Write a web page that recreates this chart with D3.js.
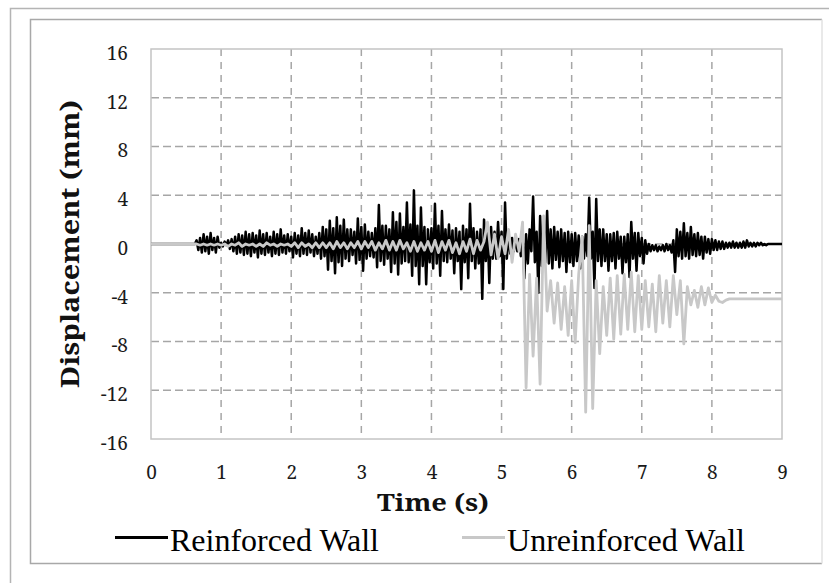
<!DOCTYPE html>
<html>
<head>
<meta charset="utf-8">
<script src="https://cdn.jsdelivr.net/npm/d3@7"></script>
<style>
  html, body { margin: 0; padding: 0; background: #fff; overflow: hidden; }
</style>
</head>
<body>
<div id="chart"></div>
<script>
"use strict";

/* ── Data ── */
const xTicks       = [0, 1, 2, 3, 4, 5, 6, 7, 8, 9];
const xTickLabels  = ["0", "1", "2", "3", "4", "5", "6", "7", "8", "9"];
const yTicks       = [-16, -12, -8, -4, 0, 4, 8, 12, 16];
const yTickLabels  = ["-16", "-12", "-8", "-4", "0", "4", "8", "12", "16"];
const seriesNames  = ["Reinforced Wall", "Unreinforced Wall"];

// reinforced wall: one sample every 0.025 s, one row per second (40 samples)
const reinforcedStep = 0.025;
const reinforced = [
  0, 0, 0, 0, 0, 0, 0, 0, 0, 0, 0, 0, 0, 0, 0, 0, 0, 0, 0, 0, 0, 0, 0, 0, 0, 0,
  0.3, -0.5, 0.5, -0.7, 0.8, -0.6, 0.6, -0.8, 0.9, -0.5, 0.5, -0.7, 0.6, -0.3,
  0.1, -0.2, 0.2, -0.1, 0.3, -0.4, 0.4, -0.6, 0.6, -0.8, 0.8, -0.7, 0.7, -0.9, 1.0, -0.8, 0.8, -1.0, 0.9, -0.7,
  0.7, -1.1, 1.1, -0.8, 0.8, -0.9, 0.9, -0.7, 0.6, -1.0, 1.0, -0.8, 0.8, -0.9, 1.2, -0.7, 0.7, -0.8, 0.8, -0.6,
  0.6, -1.1, 0.9, -0.8, 0.7, -1.0, 1.3, -0.8, 0.9, -0.9, 1.1, -0.7, 0.8, -1.0, 0.6, -0.8, 0.9, -1.2, 1.4, -1.0,
  1.2, -2.1, 1.9, -1.4, 1.3, -2.4, 2.2, -1.5, 1.5, -1.8, 2.0, -1.2, 1.2, -1.4, 1.2, -0.9, 1.0, -1.6, 2.1, -1.3,
  1.4, -2.2, 1.6, -1.2, 1.0, -1.0, 0.9, -1.1, 1.3, -1.9, 3.2, -1.4, 1.5, -1.7, 1.5, -1.2, 1.2, -2.3, 2.6, -1.6,
  1.8, -2.5, 2.5, -1.6, 1.4, -1.4, 3.4, -1.5, 1.6, -2.6, 4.4, -1.8, 1.5, -3.3, 3.0, -1.8, 1.4, -3.3, 1.2, -1.5,
  1.3, -2.0, 3.3, -1.6, 1.5, -2.6, 2.7, -1.4, 1.2, -1.5, 1.6, -1.2, 1.1, -2.4, 1.3, -1.4, 1.0, -3.7, 1.5, -1.5,
  1.2, -2.8, 3.3, -1.4, 1.3, -2.0, 1.0, -1.6, 1.2, -4.5, 2.0, -1.4, 1.3, -3.2, 1.4, -1.2, 1.0, -1.2, 1.8, -1.0,
  1.0, -3.7, 3.4, -1.2, 0.8, -0.8, 0.5, -0.6, 0.6, -0.6, 0.4, -1.0, 0.6, -2.8, 0.8, -1.6, 1.2, -0.6, 3.9, -1.5,
  1.0, -4.0, 2.3, -1.8, 1.4, -1.5, 2.7, -1.6, 1.2, -2.0, 1.4, -1.3, 1.0, -1.9, 1.2, -1.4, 0.9, -2.3, 1.0, -1.5,
  0.8, -1.8, 0.9, -1.4, 0.7, -2.0, 0.6, -1.2, 0.8, -1.0, 3.8, -1.2, 1.0, -3.6, 3.7, -1.4, 1.2, -1.8, 1.2, -1.4,
  0.8, -2.2, 0.8, -1.4, 0.9, -2.0, 1.0, -1.2, 0.6, -2.4, 0.6, -1.5, 0.8, -2.7, 1.8, -1.2, 0.9, -2.2, 0.9, -1.0,
  0.5, -1.6, 0.3, -0.8, 0.0, -0.6, -0.1, -0.5, -0.1, -0.6, -0.2, -0.5, -0.1, -0.6, 0.0, -0.5, -0.1, -0.7, 0.3, -2.3,
  1.2, -1.0, 1.0, -1.2, 1.7, -1.0, 0.9, -1.2, 1.4, -0.9, 0.8, -1.0, 0.9, -0.9, 0.6, -1.2, 0.6, -0.7, 0.4, -0.8,
  0.4, -0.5, 0.3, -0.5, 0.2, -0.4, 0.2, -0.4, 0.1, -0.3, 0.1, -0.3, 0.2, -0.3, 0.1, -0.3, 0.1, -0.3, 0.2, -0.3,
  0.3, -0.2, 0.1, -0.2, 0.1, -0.2, 0.1, -0.1, 0.1, -0.1, 0.0, -0.1, 0, 0, 0, 0, 0, 0, 0, 0,
  0
];

// unreinforced wall: one sample every 0.05 s, one row per second (20 samples)
const unreinforcedStep = 0.05;
const unreinforced = [
  0, 0, 0, 0, 0, 0, 0, 0, 0, 0, 0, 0, 0, 0.0, -0.1, 0.0, -0.1, 0.0, -0.1, 0.0,
  -0.1, 0.0, -0.2, 0.0, -0.1, 0.1, -0.2, 0.0, -0.1, 0.0, -0.2, 0.0, -0.2, 0.1, -0.1, 0.0, -0.2, 0.0, -0.1, 0.0,
  -0.2, 0.1, -0.3, 0.1, -0.2, 0.0, -0.3, 0.1, -0.3, 0.1, -0.3, 0.1, -0.4, 0.2, -0.3, 0.1, -0.4, 0.1, -0.3, 0.2,
  -0.4, 0.2, -0.3, 0.2, -0.5, 0.1, -0.4, 0.3, -0.5, 0.2, -0.5, 0.3, -0.4, 0.1, -0.6, 0.2, -0.6, 0.1, -0.5, 0.2,
  -0.6, 0.3, -0.7, 0.2, -0.5, 0.3, -0.7, 0.1, -0.8, 0.2, -0.6, 0.4, -0.8, 0.3, -0.5, 0.2, 1.8, -0.9, 0.8, -1.2,
  0.6, -0.8, 1.2, -1.5, 0.8, -0.6, 1.8, -11.8, -2.5, -9.2, -2.8, -11.5, 2.3, -5.5, -3.0, -6.5, -3.2, -7.0, -3.5, -7.5,
  -3.0, -8.1, -2.5, 0.6, -13.8, 1.5, -13.5, -3.0, -9.0, -3.5, -7.5, -2.8, -7.8, -2.6, -7.4, -2.5, -7.0, -2.3, -7.2, -2.6,
  -7.0, -3.0, -6.8, -3.3, -7.2, -2.6, -6.5, -3.0, -6.8, -2.6, -5.8, -3.0, -8.2, -3.5, -5.0, -3.8, -5.2, -3.5, -5.0, -3.6,
  -4.8, -4.2, -4.7, -4.8, -4.6, -4.5, -4.5, -4.5, -4.5, -4.5, -4.5, -4.5, -4.5, -4.5, -4.5, -4.5, -4.5, -4.5, -4.5, -4.5,
  -4.5
];

/* ── Layout ── */
const W = 829, H = 583;
const plot   = { left: 151, top: 49, right: 782, bottom: 439 };
const serif  = "Noto Serif, DejaVu Serif, serif";
const times  = "Liberation Serif, serif";
const gridCol = "#a6a6a6";

const svg = d3.select("#chart")
  .append("svg")
  .attr("width", W)
  .attr("height", H);

svg.append("rect").attr("width", W).attr("height", H).attr("fill", "#fff");

/* ── Outer / inner frames ── */
svg.append("path")
  .attr("d", `M10.5,${H}V8.5H${W}`)
  .attr("fill", "none").attr("stroke", "#b4b4b4").attr("stroke-width", 1.5);

svg.append("path")
  .attr("d", "M822,19.5H30.5V563.5H822")
  .attr("fill", "none").attr("stroke", "#a8a8a8").attr("stroke-width", 1.5);
svg.append("line")
  .attr("x1", 822).attr("x2", 822).attr("y1", 19.5).attr("y2", 563.5)
  .attr("stroke", "#e2e2e2").attr("stroke-width", 1.5);

/* ── Scales ── */
const x = d3.scaleLinear().domain([0, 9]).range([plot.left, plot.right]);
const y = d3.scaleLinear().domain([-16, 16]).range([plot.bottom, plot.top]);

/* ── Gridlines ── */
svg.append("g")
  .selectAll("line")
  .data(yTicks.filter(v => v > y.domain()[0] && v < y.domain()[1]))
  .join("line")
  .attr("x1", x(0)).attr("x2", x(9))
  .attr("y1", d => y(d)).attr("y2", d => y(d))
  .attr("stroke", gridCol).attr("stroke-width", 1.5)
  .attr("stroke-dasharray", "8,4");

svg.append("g")
  .selectAll("line")
  .data(xTicks.filter(v => v > x.domain()[0] && v < x.domain()[1]))
  .join("line")
  .attr("x1", d => x(d)).attr("x2", d => x(d))
  .attr("y1", y(16)).attr("y2", y(-16))
  .attr("stroke", gridCol).attr("stroke-width", 1.5)
  .attr("stroke-dasharray", "7,6");

/* ── Plot border ── */
svg.append("rect")
  .attr("x", x(0)).attr("y", y(16))
  .attr("width", x(9) - x(0)).attr("height", y(-16) - y(16))
  .attr("fill", "none").attr("stroke", "#c4c4c4").attr("stroke-width", 1.5);

/* ── Axes ── */
svg.append("g")
  .attr("transform", `translate(${x(0)},0)`)
  .call(d3.axisLeft(y).tickValues(yTicks)
    .tickFormat((d, i) => yTickLabels[i]).tickSize(0).tickPadding(23))
  .call(g => {
    g.select(".domain").remove();
    g.attr("font-family", serif).attr("font-size", 19);
    g.selectAll(".tick text").attr("fill", "#1a1a1a").attr("dy", "0.55em");
  });

svg.append("g")
  .attr("transform", `translate(0,${y(-16)})`)
  .call(d3.axisBottom(x).tickValues(xTicks)
    .tickFormat((d, i) => xTickLabels[i]).tickSize(0))
  .call(g => {
    g.select(".domain").remove();
    g.attr("font-family", serif).attr("font-size", 19);
    g.selectAll(".tick text").attr("fill", "#1a1a1a").attr("y", 40).attr("dy", 0);
  });

/* ── Axis titles ── */
svg.append("text")
  .attr("x", 433).attr("y", 511)
  .attr("text-anchor", "middle")
  .attr("font-family", serif).attr("font-weight", "bold").attr("font-size", 24)
  .attr("textLength", 112).attr("lengthAdjust", "spacingAndGlyphs")
  .attr("fill", "#111")
  .text("Time (s)");

svg.append("text")
  .attr("transform", "translate(79,244) rotate(-90)")
  .attr("text-anchor", "middle")
  .attr("font-family", serif).attr("font-weight", "bold").attr("font-size", 26)
  .attr("textLength", 288).attr("lengthAdjust", "spacingAndGlyphs")
  .attr("fill", "#111")
  .text("Displacement (mm)");

/* ── Series (unreinforced drawn last, on top) ── */
const series = [
  { name: seriesNames[0], values: reinforced,   step: reinforcedStep,   colour: "#000000", width: 2.5 },
  { name: seriesNames[1], values: unreinforced, step: unreinforcedStep, colour: "#c8c8c8", width: 2.8 }
];

svg.append("g")
  .selectAll("path")
  .data(series)
  .join("path")
  .attr("d", s => d3.line()
    .x((d, i) => x(i * s.step))
    .y(d => y(d))(s.values))
  .attr("fill", "none")
  .attr("stroke", s => s.colour)
  .attr("stroke-width", s => s.width)
  .attr("stroke-linejoin", "round");

/* ── Legend ── */
const legendItems = [
  { x1: 115, x2: 168, tx: 170, w: 209 },
  { x1: 462, x2: 505, tx: 507, w: 238 }
];

const legend = svg.append("g");
legend.selectAll("line")
  .data(series)
  .join("line")
  .attr("x1", (d, i) => legendItems[i].x1)
  .attr("x2", (d, i) => legendItems[i].x2)
  .attr("y1", 537.5).attr("y2", 537.5)
  .attr("stroke", d => d.colour).attr("stroke-width", 3);

legend.selectAll("text")
  .data(series)
  .join("text")
  .attr("x", (d, i) => legendItems[i].tx)
  .attr("y", 551)
  .attr("font-family", times).attr("font-size", 32)
  .attr("textLength", (d, i) => legendItems[i].w)
  .attr("lengthAdjust", "spacingAndGlyphs")
  .attr("fill", "#000")
  .text(d => d.name);
</script>
</body>
</html>
